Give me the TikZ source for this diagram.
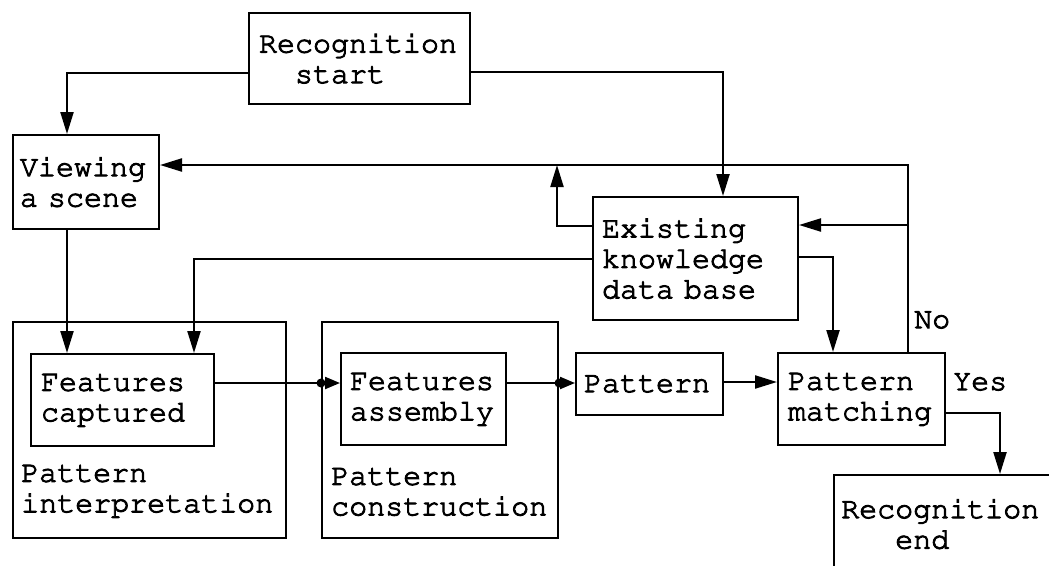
\documentclass[tikz,border=0pt]{standalone}
\usepackage[T1]{fontenc}
\usetikzlibrary{arrows.meta,calc}
% slightly heavier Courier strokes: fill and stroke the glyph outlines
\newcommand\heavytext{\special{pdf:literal direct 2 Tr 0.9 w}}
\newcommand\plaintext{\special{pdf:literal direct 0 Tr}}
\begin{document}
\begin{tikzpicture}[x=1pt,y=-1pt,
  txtfont/.style={font=\fontencoding{T1}\fontfamily{pcr}\fontsize{30}{30.5}\selectfont,
    execute at begin node=\heavytext, execute at end node=\plaintext},
  box/.style={draw, line width=2pt, rectangle, anchor=north west, align=left,
    inner ysep=0pt, txtfont},
  frame/.style={draw, line width=2pt, rectangle, anchor=north west, inner sep=0pt},
  lbl/.style={txtfont, align=left, inner sep=0pt, anchor=west},
  wire/.style={line width=2.2pt},
  arr/.style={wire, -{Triangle[length=22pt,width=13pt]}},
  shortarr/.style={wire, -{Triangle[length=15pt,width=12pt]}}]
\useasboundingbox (0,0) rectangle (1049,565);
\clip (0,0) rectangle (1049,565);

% process boxes
\node[box, text width=201pt, inner xsep=10pt, minimum height=91pt] (rstart) at (248,12)
  {Recognition\\\hspace*{36pt}start};
\node[box, text width=132pt, inner xsep=7pt, minimum height=94pt] (view) at (12,134)
  {Viewing\\a scene};
\node[box, text width=187pt, inner xsep=9pt, minimum height=123pt] (kb) at (592,196)
  {Existing\\knowledge\\data base};

% grouping frames
\node[frame, minimum width=273pt, minimum height=216pt] (interp) at (12,321) {};
\node[frame, minimum width=236pt, minimum height=216pt] (pcon) at (321,321) {};
\node[lbl] (interp-t) at (21,491) {Pattern\\interpretation};
\node[lbl] (pcon-t) at (331,492) {Pattern\\construction};

\node[box, text width=163pt, inner xsep=10pt, minimum height=92pt] (fc) at (30,353)
  {Features\\captured};
\node[box, text width=147pt, inner xsep=9pt, minimum height=92pt] (fa) at (340,352)
  {Features\\assembly};
\node[box, text width=131pt, inner xsep=8pt, minimum height=62pt] (pat) at (575,352)
  {Pattern};
\node[box, text width=147pt, inner xsep=10pt, minimum height=92pt] (pm) at (777,352)
  {Pattern\\matching};

% end box runs off the edge of the page
\node[frame, minimum width=300pt, minimum height=200pt] (rend) at (833,474) {};
\node[lbl] (rend-t) at (841,524) {Recognition\\\hspace*{54pt}end};

% decision labels
\node[lbl] (no) at (914,320) {No};
\node[lbl] (yes) at (953,382) {Yes};

% connectors
\draw[arr] (rstart.west |- 0,73) -| (view.north -| 67,0);
\draw[arr] (rstart.east |- 0,72) -| (kb.north -| 723,0);

\coordinate (fbcorner) at (908,165);
\coordinate (upjoin) at (557,165);
\draw[arr] (pm.north -| fbcorner) -- (fbcorner) -- (view.east |- fbcorner);
\draw[arr] (fbcorner |- 0,225) -- (kb.east |- 0,225);
\draw[arr] (kb.west |- 0,226) -| (upjoin);
\draw[arr] (kb.west |- 0,259) -| (fc.north -| 194,0);
\draw[arr] (view.south -| 67,0) -- (fc.north -| 67,0);

\draw[shortarr] (fc.east |- 0,383) -- (fa.west |- 0,383);
\fill (pcon.west |- 0,383) circle (4.5pt);
\draw[shortarr] (fa.east |- 0,383) -- (pat.west |- 0,383);
\fill (pcon.east |- 0,383) circle (4.5pt);
\draw[arr] (pat.east |- 0,382) -- (pm.west |- 0,382);
\draw[arr] (kb.east |- 0,257) -| (pm.north -| 833,0);
\draw[arr] (pm.east |- 0,413) -| (rend.north -| 1000,0);
\end{tikzpicture}
\end{document}
